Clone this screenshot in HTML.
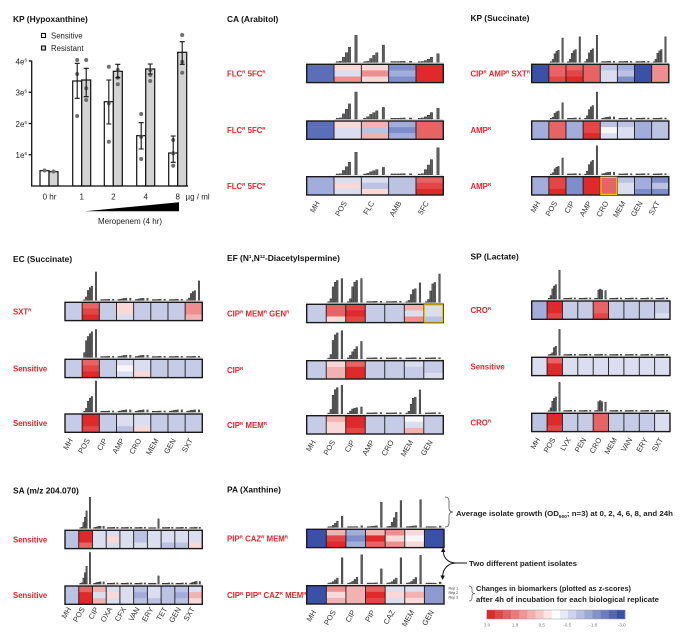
<!DOCTYPE html>
<html><head><meta charset="utf-8">
<style>
html,body{margin:0;padding:0;background:#fff;}
body{width:682px;height:633px;overflow:hidden;}
svg{display:block;font-family:"Liberation Sans",Arial,sans-serif;}
.t{font-size:8.4px;font-weight:bold;fill:#111;}
.lab{font-size:7.8px;font-weight:bold;fill:#e3262c;}
.s{font-size:4.6px;}
.ax{font-size:7.5px;fill:#333;text-anchor:end;}
.tk{font-size:8px;fill:#222;}
.an{font-size:7.5px;font-weight:bold;fill:#222;}
.cb{font-size:4.5px;fill:#777;text-anchor:middle;}
.rep{font-size:3.6px;fill:#333;}
</style></head>
<body>
<svg id="svg" width="682" height="633" viewBox="0 0 682 633" xmlns="http://www.w3.org/2000/svg">
<!-- Left chart -->
<text class="t" x="13" y="22">KP (Hypoxanthine)</text>
<rect x="41.5" y="33.5" width="4" height="4" fill="#fff" stroke="#111" stroke-width="1.1"/>
<rect x="41.5" y="46" width="4" height="4" fill="#d3d3d3" stroke="#111" stroke-width="1.1"/>
<text class="tk" x="51" y="38.5" style="font-size:7.8px">Sensitive</text>
<text class="tk" x="51" y="51" style="font-size:7.8px">Resistant</text>
<g stroke="#111" stroke-width="1.2">
<rect x="40" y="170.7" width="9" height="15.3" fill="#fff"/>
<rect x="49" y="171.7" width="9" height="14.3" fill="#d3d3d3"/>
<rect x="72.7" y="81" width="9" height="105" fill="#fff"/>
<rect x="81.7" y="80" width="9" height="106" fill="#d3d3d3"/>
<rect x="104.3" y="101.7" width="9" height="84.3" fill="#fff"/>
<rect x="113.3" y="71.3" width="9" height="114.7" fill="#d3d3d3"/>
<rect x="136.7" y="135.7" width="9" height="50.3" fill="#fff"/>
<rect x="145.7" y="69" width="9" height="117" fill="#d3d3d3"/>
<rect x="168.7" y="153" width="9" height="33" fill="#fff"/>
<rect x="177.7" y="52.3" width="9" height="133.7" fill="#d3d3d3"/>
</g>
<g fill="#6e6e6e">
<circle cx="44.5" cy="170.5" r="2"/><circle cx="53.5" cy="171.5" r="2"/>
<circle cx="77.2" cy="60" r="2"/><circle cx="77.2" cy="74" r="2"/><circle cx="77.2" cy="116" r="2"/>
<circle cx="86.2" cy="60" r="2"/><circle cx="86.2" cy="88.3" r="2"/><circle cx="86.2" cy="100" r="2"/>
<circle cx="108.8" cy="66.7" r="2"/><circle cx="108.8" cy="103.3" r="2"/><circle cx="108.8" cy="141.7" r="2"/>
<circle cx="117.8" cy="70" r="2"/><circle cx="117.8" cy="77.7" r="2"/><circle cx="117.8" cy="84.3" r="2"/>
<circle cx="141.2" cy="114" r="2"/><circle cx="141.2" cy="136.7" r="2"/><circle cx="141.2" cy="159" r="2"/>
<circle cx="150.2" cy="70" r="2"/><circle cx="150.2" cy="75" r="2"/><circle cx="150.2" cy="81" r="2"/>
<circle cx="173.2" cy="140" r="2"/><circle cx="173.2" cy="153.3" r="2"/><circle cx="173.2" cy="165.7" r="2"/>
<circle cx="182.2" cy="35" r="2"/><circle cx="182.2" cy="61.7" r="2"/><circle cx="182.2" cy="72.7" r="2"/>
</g>
<g stroke="#111" stroke-width="1.1" fill="none">
<path d="M77.2,63.3V98.3M74.7,63.3H79.7M74.7,98.3H79.7"/>
<path d="M86.2,68.3V96.7M83.7,68.3H88.7M83.7,96.7H88.7"/>
<path d="M108.8,80V124M106.3,80H111.3M106.3,124H111.3"/>
<path d="M117.8,64.3V77.7M115.3,64.3H120.3M115.3,77.7H120.3"/>
<path d="M141.2,122.7V149M138.7,122.7H143.7M138.7,149H143.7"/>
<path d="M150.2,64V74M147.7,64H152.7M147.7,74H152.7"/>
<path d="M173.2,136V162.3M170.7,136H175.7M170.7,162.3H175.7"/>
<path d="M182.2,41.7V64.3M179.7,41.7H184.7M179.7,64.3H184.7"/>
</g>
<g stroke="#111" stroke-width="1.3">
<line x1="31.7" y1="60.5" x2="31.7" y2="186.6"/>
<line x1="31" y1="186" x2="188" y2="186"/>
<line x1="28.7" y1="61" x2="31.7" y2="61"/>
<line x1="28.7" y1="92.25" x2="31.7" y2="92.25"/>
<line x1="28.7" y1="123.5" x2="31.7" y2="123.5"/>
<line x1="28.7" y1="154.75" x2="31.7" y2="154.75"/>
</g>
<g class="tk" text-anchor="end">
<text x="27" y="64.3">4e<tspan class="s" dy="-3">6</tspan></text>
<text x="27" y="95.5">3e<tspan class="s" dy="-3">6</tspan></text>
<text x="27" y="126.8">2e<tspan class="s" dy="-3">6</tspan></text>
<text x="27" y="158">1e<tspan class="s" dy="-3">6</tspan></text>
</g>
<g class="tk" text-anchor="middle">
<text x="49.5" y="199.5">0 hr</text>
<text x="81.7" y="199.5">1</text>
<text x="113.3" y="199.5">2</text>
<text x="145.7" y="199.5">4</text>
<text x="177.7" y="199.5">8</text>
<text x="130" y="224">Meropenem (4 hr)</text>
</g>
<text class="tk" x="185.5" y="199.5">µg / ml</text>
<polygon points="85,211.3 179,211.3 179,202.3" fill="#000"/>

<!-- Titles -->
<text class="t" x="227" y="22">CA (Arabitol)</text>
<text class="t" x="470.5" y="21">KP (Succinate)</text>
<text class="t" x="13" y="262">EC (Succinate)</text>
<text class="t" x="227" y="261">EF (N<tspan class="s" dy="-3">1</tspan><tspan dy="3">,N</tspan><tspan class="s" dy="-3">12</tspan><tspan dy="3">-Diacetylspermine)</tspan></text>
<text class="t" x="470.5" y="259.5">SP (Lactate)</text>
<text class="t" x="13" y="493.5">SA (m/z 204.070)</text>
<text class="t" x="227" y="492.5">PA (Xanthine)</text>

<!-- Red labels -->
<text class="lab" x="227" y="76.5">FLC<tspan class="s" dy="-3">R</tspan><tspan dy="3"> 5FC</tspan><tspan class="s" dy="-3">R</tspan></text>
<text class="lab" x="227" y="133">FLC<tspan class="s" dy="-3">R</tspan><tspan dy="3"> 5FC</tspan><tspan class="s" dy="-3">R</tspan></text>
<text class="lab" x="227" y="189">FLC<tspan class="s" dy="-3">R</tspan><tspan dy="3"> 5FC</tspan><tspan class="s" dy="-3">R</tspan></text>
<text class="lab" x="470.5" y="76.5">CIP<tspan class="s" dy="-3">R</tspan><tspan dy="3"> AMP</tspan><tspan class="s" dy="-3">R</tspan><tspan dy="3"> SXT</tspan><tspan class="s" dy="-3">R</tspan></text>
<text class="lab" x="470.5" y="133">AMP<tspan class="s" dy="-3">R</tspan></text>
<text class="lab" x="470.5" y="189">AMP<tspan class="s" dy="-3">R</tspan></text>
<text class="lab" x="13" y="314.5">SXT<tspan class="s" dy="-3">R</tspan></text>
<text class="lab" x="13" y="371.5">Sensitive</text>
<text class="lab" x="13" y="426">Sensitive</text>
<text class="lab" x="227" y="316.5">CIP<tspan class="s" dy="-3">R</tspan><tspan dy="3"> MEM</tspan><tspan class="s" dy="-3">R</tspan><tspan dy="3"> GEN</tspan><tspan class="s" dy="-3">R</tspan></text>
<text class="lab" x="227" y="373">CIP<tspan class="s" dy="-3">R</tspan></text>
<text class="lab" x="227" y="428">CIP<tspan class="s" dy="-3">R</tspan><tspan dy="3"> MEM</tspan><tspan class="s" dy="-3">R</tspan></text>
<text class="lab" x="470.5" y="313">CRO<tspan class="s" dy="-3">R</tspan></text>
<text class="lab" x="470.5" y="369.5">Sensitive</text>
<text class="lab" x="470.5" y="425.5">CRO<tspan class="s" dy="-3">R</tspan></text>
<text class="lab" x="13" y="542.5">Sensitive</text>
<text class="lab" x="13" y="598">Sensitive</text>
<text class="lab" x="227" y="541.5">PIP<tspan class="s" dy="-3">R</tspan><tspan dy="3"> CAZ</tspan><tspan class="s" dy="-3">R</tspan><tspan dy="3"> MEM</tspan><tspan class="s" dy="-3">R</tspan></text>
<text class="lab" x="227" y="598">CIP<tspan class="s" dy="-3">R</tspan><tspan dy="3"> PIP</tspan><tspan class="s" dy="-3">R</tspan><tspan dy="3"> CAZ</tspan><tspan class="s" dy="-3">R</tspan><tspan dy="3"> MEM</tspan><tspan class="s" dy="-3">R</tspan></text>

<!-- Heatmaps drawn by script -->
<g id="hm"></g>

<!-- Axis labels -->
<g class="ax">
<text transform="translate(319.9,203) rotate(-60)">MH</text>
<text transform="translate(347.2,203) rotate(-60)">POS</text>
<text transform="translate(374.5,203) rotate(-60)">FLC</text>
<text transform="translate(401.8,203) rotate(-60)">AMB</text>
<text transform="translate(429.1,203) rotate(-60)">5FC</text>

<text transform="translate(540.5,203) rotate(-60)">MH</text>
<text transform="translate(557.6,203) rotate(-60)">POS</text>
<text transform="translate(574.7,203) rotate(-60)">CIP</text>
<text transform="translate(591.8,203) rotate(-60)">AMP</text>
<text transform="translate(608.8,203) rotate(-60)">CRO</text>
<text transform="translate(625.9,203) rotate(-60)">MEM</text>
<text transform="translate(643.0,203) rotate(-60)">GEN</text>
<text transform="translate(660.1,203) rotate(-60)">SXT</text>

<text transform="translate(73.1,440.3) rotate(-60)">MH</text>
<text transform="translate(90.2,440.3) rotate(-60)">POS</text>
<text transform="translate(107.4,440.3) rotate(-60)">CIP</text>
<text transform="translate(124.6,440.3) rotate(-60)">AMP</text>
<text transform="translate(141.7,440.3) rotate(-60)">CRO</text>
<text transform="translate(158.9,440.3) rotate(-60)">MEM</text>
<text transform="translate(176.1,440.3) rotate(-60)">GEN</text>
<text transform="translate(193.2,440.3) rotate(-60)">SXT</text>

<text transform="translate(316.0,442) rotate(-60)">MH</text>
<text transform="translate(335.5,442) rotate(-60)">POS</text>
<text transform="translate(355.0,442) rotate(-60)">CIP</text>
<text transform="translate(374.5,442) rotate(-60)">AMP</text>
<text transform="translate(394.0,442) rotate(-60)">CRO</text>
<text transform="translate(413.5,442) rotate(-60)">MEM</text>
<text transform="translate(433.0,442) rotate(-60)">GEN</text>

<text transform="translate(540.4,439.5) rotate(-60)">MH</text>
<text transform="translate(555.7,439.5) rotate(-60)">POS</text>
<text transform="translate(571.1,439.5) rotate(-60)">LVX</text>
<text transform="translate(586.5,439.5) rotate(-60)">PEN</text>
<text transform="translate(601.9,439.5) rotate(-60)">CRO</text>
<text transform="translate(617.2,439.5) rotate(-60)">MEM</text>
<text transform="translate(632.6,439.5) rotate(-60)">VAN</text>
<text transform="translate(648.0,439.5) rotate(-60)">ERY</text>
<text transform="translate(663.3,439.5) rotate(-60)">SXT</text>

<text transform="translate(71.4,609) rotate(-60)">MH</text>
<text transform="translate(85.1,609) rotate(-60)">POS</text>
<text transform="translate(98.8,609) rotate(-60)">CIP</text>
<text transform="translate(112.5,609) rotate(-60)">OXA</text>
<text transform="translate(126.3,609) rotate(-60)">CFX</text>
<text transform="translate(140.0,609) rotate(-60)">VAN</text>
<text transform="translate(153.7,609) rotate(-60)">ERY</text>
<text transform="translate(167.5,609) rotate(-60)">TET</text>
<text transform="translate(181.2,609) rotate(-60)">GEN</text>
<text transform="translate(194.9,609) rotate(-60)">SXT</text>

<text transform="translate(316.5,612) rotate(-60)">MH</text>
<text transform="translate(336.1,612) rotate(-60)">POS</text>
<text transform="translate(355.7,612) rotate(-60)">CIP</text>
<text transform="translate(375.3,612) rotate(-60)">PIP</text>
<text transform="translate(395.0,612) rotate(-60)">CAZ</text>
<text transform="translate(414.6,612) rotate(-60)">MEM</text>
<text transform="translate(434.2,612) rotate(-60)">GEN</text>
</g>

<!-- Annotations -->
<path d="M445,497 Q449,497 449,501 L449,508 Q449,512 453,512 Q449,512 449,516 L449,523 Q449,527 445,527" fill="none" stroke="#555" stroke-width="0.8"/>
<text class="an" x="456" y="516" textLength="217" lengthAdjust="spacingAndGlyphs">Average isolate growth (OD<tspan class="s" dy="2">600</tspan><tspan dy="-2">; n=3) at 0, 2, 4, 6, 8, and 24h</tspan></text>
<path d="M467,563 L456,563 C448,563 443.5,558 443.2,551" fill="none" stroke="#111" stroke-width="1"/>
<polygon points="441,552 445.4,552 443.2,547.5" fill="#111"/>
<path d="M456,563 C448,563 443,569 442.6,576" fill="none" stroke="#111" stroke-width="1"/>
<polygon points="440.4,575.5 444.8,575.5 442.6,580" fill="#111"/>
<text class="an" x="469" y="566" textLength="108" lengthAdjust="spacingAndGlyphs">Two different patient isolates</text>
<text class="rep" x="448.5" y="589.6">Rep 1</text>
<text class="rep" x="448.5" y="594.1">Rep 2</text>
<text class="rep" x="448.5" y="598.6">Rep 3</text>
<path d="M469,586 Q472,586 472,589 L472,591 Q472,593.5 475,593.5 Q472,593.5 472,596 L472,598 Q472,601 469,601" fill="none" stroke="#555" stroke-width="0.7"/>
<text class="an" x="476" y="591" textLength="155" lengthAdjust="spacingAndGlyphs">Changes in biomarkers (plotted as z-scores)</text>
<text class="an" x="476" y="602" textLength="183" lengthAdjust="spacingAndGlyphs">after 4h of incubation for each biological replicate</text>
<g id="cbar"></g>
<g class="cb">
<text x="487" y="626.5">3.0</text>
<text x="515" y="626.5">1.8</text>
<text x="541.7" y="626.5">0.5</text>
<text x="567.3" y="626.5">-0.5</text>
<text x="593.3" y="626.5">-1.8</text>
<text x="621.7" y="626.5">-3.0</text>
</g>
</svg>
<script>
(function(){
var C={D:'#3b50a7',M:'#5d6eb8',m:'#7e8ecb',n:'#8e9bd1',b:'#a3addb',l:'#bcc3e2',L:'#c7cce6',p:'#dadeef',w:'#f7f7fa',q:'#f9d8d8',k:'#f3b2b2',K:'#ee8f8f',r:'#e86464',R:'#e44646',X:'#e0292b'};
var S={late:[.01,.04,.19,.36,.56,1],late2:[.02,.06,.22,.4,.55,1],ramp:[.05,.1,.2,.35,.6,1],grad:[.05,.2,.4,.55,.7,1],g:[.02,.12,.35,.45,.5,1],g2:[.02,.1,.4,.65,.7,1],fast:[.17,.6,.75,.85,.92,1],fast2:[.02,.15,.65,.85,.92,1],flat:[.03,.03,.03,.035,.04,.04],flat2:[.03,.04,.06,.07,.08,.08],spike:[.02,.03,.04,.05,.06,1],bump:[.02,.08,.9,1,.9,.85],last:[.01,.01,.01,.01,.01,1],pa:[.02,.04,.08,.15,.22,1],sp2:[.02,.05,.1,.3,.35,1],fl:[.1,.4,.7,.8,.9,1]};
var PN=[
{x0:306.7,x1:443.3,n:5,rows:[
 [64.3,'MMM qpK qKq mbm XXX','- late:1 late2:.64 flat:1 ramp:.32'],
 [121,'MMM qpp klk bmb rrr','- late:1 grad:.43 flat:1 ramp:.4'],
 [176.7,'bbb pqp plq lll rRX','- late:.83 grad:.27 flat:1 late:1']]},
{x0:531.7,x1:668.8,n:8,rows:[
 [64.3,'DDD rrR rRX rrr lpp blm DDD KKK','- g:.9 g:.95 g:1 flat:1 flat:1 flat:1 g:.95'],
 [121,'bbb rrr bbb RRX lwp lpp bbb lll','- g:.6 flat:1 g:1 flat2:1 flat:1 flat:1 flat:1'],
 [176.7,'bbb RRX mmm XXX rrr lpp bbm mlm','- g:.62 flat:1 g:1.07 flat2:1.2 flat:1 flat:1 flat:1',4]]},
{x0:65,x1:202.3,n:8,rows:[
 [302.3,'LLL rRX LLL qqp LLL LLL LLL KKk','- g:1.05 flat:1 flat2:1 flat2:1 flat:1 flat:1 g:.72'],
 [359.3,'LLL rRX LLL pwp ppq LLL LLL LLL','- fast:1.03 flat:1 flat2:1 flat2:1 flat:1 flat:1 flat:1'],
 [414,'LLL XXR LLL ppl ppq LLL LLL LLL','- g:1.15 flat:1 flat2:1 flat2:1 flat:1 flat2:1 flat2:1']]},
{x0:306.7,x1:443.3,n:7,rows:[
 [304.3,'LLL rrq RXR LLL LLL kpK ppl','- fast2:.88 fast2:.88 flat:1 flat:1 g2:.72 g2:1.05',6],
 [360.7,'LLL qkk rXX LLL LLL pLL LLp','- fast2:1.04 grad:.64 flat:1 flat:1 flat:1 flat:1'],
 [415.7,'LLL kqq XXR LLL LLL wpk LLL','- fast2:1.05 fl:.25 flat:1 flat:1 g2:.88 flat:1']]},
{x0:531.7,x1:670,n:9,rows:[
 [301,'bbb XXR LLL LLL rrR LLL LLL LLL LLp','- g:1.07 flat:1 flat:1 bump:.37 flat:1 flat:1 flat:1 flat:1'],
 [357.3,'ppp rXX ppp ppp ppp ppp ppp ppp ppp','- sp2:.96 flat:1 flat:1 flat:1 flat:1 flat:1 flat:1 flat:1'],
 [413.3,'lll XXR LLL LLL rrr LLL LLL LLL ppp','- g:1.07 flat:1 flat:1 bump:.4 flat:1 flat:1 flat:1 flat:1']]},
{x0:65,x1:202.3,n:10,rows:[
 [530.3,'lll XXr ppp pqp ppp llp ppp ppl ppl ppq','- late:1.15 flat2:1 flat:1 flat:1 flat:1 last:.35 flat:1 flat:1 flat:1'],
 [586,'lll rXX kpk pqp ppp lbl ppl lll lbl pkq','- late:1.17 flat2:1 flat:1 flat:1 flat:1 last:.3 flat:1 flat:1 flat2:1.2']]},
{x0:306.7,x1:444,n:7,rows:[
 [529.3,'DDD kRX bmb kXr KqK qwq DDD','- late:.41 last:.06 spike:.93 late:.99 spike:1.02 last:.05'],
 [585.7,'DDD Kqk kkk rXR pqp pkq nnn','- pa:.96 pa:1.07 spike:.55 pa:.96 pa:1.05 last:.06']]}
];
var FX=[.08,.19,.30,.41,.52,.76];
var h='';
PN.forEach(function(p){
 var cw=(p.x1-p.x0)/p.n, H=18.3;
 p.rows.forEach(function(r){
  var y=r[0], cells=r[1].split(' '), bars=r[2].split(' '), yel=r[3];
  var base=y-2;
  h+='<line x1="'+(p.x0+cw)+'" x2="'+p.x1+'" y1="'+(base+0.4)+'" y2="'+(base+0.4)+'" stroke="#d6d6d6" stroke-width="1"/>';
  cells.forEach(function(c,i){
   var x=p.x0+i*cw;
   for(var j=0;j<3;j++){
    h+='<rect x="'+x.toFixed(2)+'" y="'+(y+j*H/3).toFixed(2)+'" width="'+(cw+0.2).toFixed(2)+'" height="'+(H/3+0.3).toFixed(2)+'" fill="'+C[c[j]]+'"/>';
   }
   var b=bars[i];
   if(b!=='-'){
    var pr=b.split(':'), sh=S[pr[0]], sc=parseFloat(pr[1]);
    var bw=Math.max(1.5,cw*0.09);
    for(var k=0;k<6;k++){
     var bh=Math.max(0.7,27*sc*sh[k]);
     h+='<rect x="'+(x+FX[k]*cw).toFixed(2)+'" y="'+(base-bh).toFixed(2)+'" width="'+bw.toFixed(2)+'" height="'+bh.toFixed(2)+'" fill="#5e5e5e" stroke="#1e1e1e" stroke-width="0.35"/>';
    }
   }
  });
  for(var i=1;i<p.n;i++){
   var xx=p.x0+i*cw;
   h+='<line x1="'+xx.toFixed(2)+'" x2="'+xx.toFixed(2)+'" y1="'+y+'" y2="'+(y+H)+'" stroke="#1a1a1a" stroke-width="0.9"/>';
  }
  h+='<rect x="'+p.x0+'" y="'+y+'" width="'+(p.x1-p.x0).toFixed(2)+'" height="'+H+'" fill="none" stroke="#1a1a1a" stroke-width="1.4"/>';
  if(yel!==undefined){
   h+='<rect x="'+(p.x0+yel*cw+0.6).toFixed(2)+'" y="'+(y+0.6)+'" width="'+(cw-1.2).toFixed(2)+'" height="'+(H-1.2)+'" fill="none" stroke="#e6c200" stroke-width="1.3"/>';
  }
 });
});
document.getElementById('hm').innerHTML=h;
var cb='', x0=486.7, w=(625-486.7)/17;
var red=[224,41,43], wh=[255,255,255], bl=[59,80,167];
for(var i=0;i<17;i++){
 var c;
 if(i<=8){var t=i/8;c=red.map(function(v,j){return Math.round(v+(wh[j]-v)*t);});}
 else{var t=(i-8)/8;c=wh.map(function(v,j){return Math.round(v+(bl[j]-v)*t);});}
 cb+='<rect x="'+(x0+i*w).toFixed(2)+'" y="610" width="'+(w+0.3).toFixed(2)+'" height="9" fill="rgb('+c.join(',')+')"/>';
}
cb+='<rect x="486.7" y="610" width="138.3" height="9" fill="none" stroke="#999" stroke-width="0.5"/>';
document.getElementById('cbar').innerHTML=cb;
})();
</script>
</body></html>
